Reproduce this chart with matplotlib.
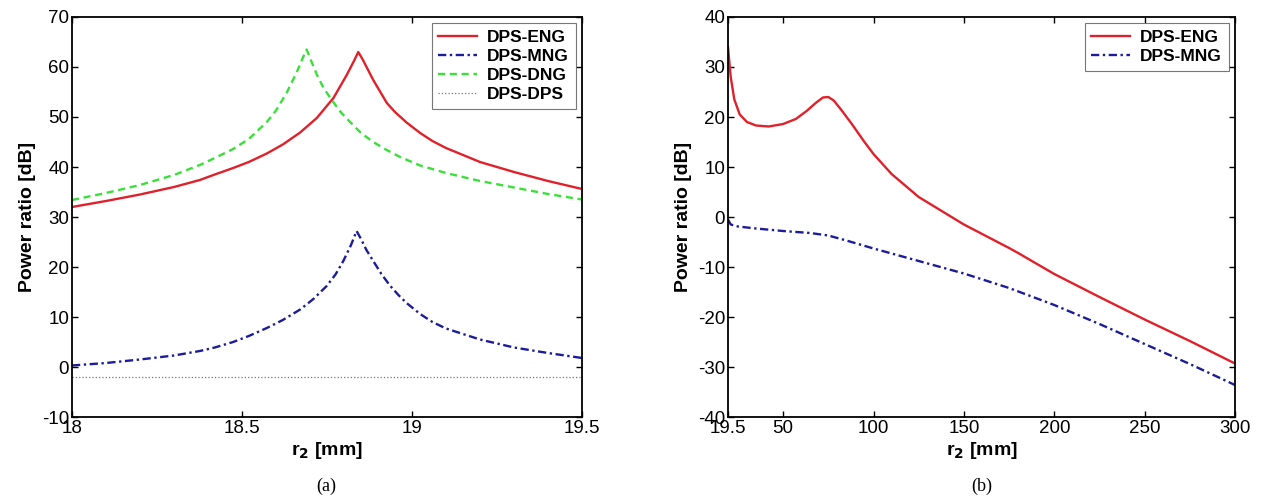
import numpy as np
import matplotlib
matplotlib.use('Agg')
import matplotlib.pyplot as plt

# datos de la grafica (a)
r2_a_eng = [18.0, 18.1, 18.2, 18.3, 18.376, 18.42, 18.474, 18.52, 18.573, 18.62, 18.671,
            18.72, 18.769, 18.808, 18.83, 18.842, 18.855, 18.886, 18.926, 18.95, 18.984,
            19.024, 19.06, 19.1, 19.2, 19.3, 19.4, 19.5]
eng_a = [32.0, 33.2, 34.5, 36.0, 37.4, 38.5, 39.8, 41.0, 42.7, 44.5, 46.9,
         49.8, 53.8, 58.4, 61.3, 63.0, 61.5, 57.4, 52.8, 51.0, 48.9,
         46.8, 45.2, 43.8, 41.0, 39.0, 37.2, 35.6]
r2_a_dng = [18.0, 18.1, 18.2, 18.3, 18.376, 18.42, 18.474, 18.52, 18.573, 18.6, 18.631,
            18.66, 18.68, 18.69, 18.70, 18.72, 18.74, 18.764, 18.79, 18.818, 18.85,
            18.886, 18.92, 18.965, 19.024, 19.1, 19.2, 19.3, 19.4, 19.5]
dng_a = [33.4, 34.8, 36.4, 38.4, 40.4, 41.8, 43.6, 45.6, 49.0, 51.3, 54.8,
         58.8, 62.0, 63.5, 61.8, 58.5, 55.8, 53.4, 51.0, 49.0, 46.8,
         45.0, 43.6, 42.0, 40.3, 38.8, 37.2, 35.9, 34.6, 33.5]
r2_a_mng = [18.0, 18.1, 18.2, 18.3, 18.376, 18.42, 18.474, 18.52, 18.573, 18.62, 18.671,
            18.71, 18.749, 18.775, 18.798, 18.82, 18.837, 18.85, 18.866, 18.886, 18.91,
            18.935, 18.96, 18.984, 19.024, 19.06, 19.1, 19.2, 19.3, 19.4, 19.5]
mng_a = [0.3, 0.8, 1.5, 2.3, 3.2, 3.9, 5.0, 6.2, 7.8, 9.4, 11.5,
         13.6, 16.2, 18.5, 21.2, 24.3, 27.2, 25.6, 23.4, 21.2, 18.6,
         16.3, 14.4, 12.8, 10.6, 9.0, 7.7, 5.5, 3.9, 2.8, 1.8]
r2_a_dps = [18.0, 19.5]
dps_a = [-2.0, -2.0]

# datos de la grafica (b)
r2_b_eng = [19.5, 21, 23, 26, 30, 35, 42, 50, 57, 63, 68, 72, 75, 78, 82, 88, 95, 100,
            110, 125, 150, 175, 180, 200, 225, 250, 275, 300]
eng_b = [34.0, 28.0, 23.5, 20.5, 19.0, 18.3, 18.1, 18.6, 19.6, 21.2, 22.8, 23.9, 24.0,
         23.3, 21.5, 18.6, 15.0, 12.6, 8.6, 4.0, -1.5, -6.2, -7.2, -11.4, -16.0,
         -20.5, -24.8, -29.3]
r2_b_mng = [19.5, 21, 25, 35, 50, 65, 75, 85, 100, 125, 150, 175, 200, 225, 250, 275, 300]
mng_b = [-0.5, -1.5, -1.9, -2.3, -2.8, -3.2, -3.7, -4.7, -6.3, -8.8, -11.3, -14.2,
         -17.6, -21.4, -25.4, -29.4, -33.6]

ROJO = '#e0202a'
AZUL = '#1c1c9a'
VERDE = '#38e038'
GRIS = '#777777'
MNG_LS = (0, (3.5, 1.5, 1, 1.5))


def estiloEjes(ax):
    # ticks hacia adentro en los cuatro lados, como matlab
    ax.tick_params(direction='in', top=True, right=True, labelsize=13.5, length=4,
                   width=1, pad=2)
    for s in ax.spines.values():
        s.set_linewidth(1.3)
    ax.set_ylabel('Power ratio [dB]', fontsize=14, fontweight='bold', labelpad=4)
    ax.set_xlabel(r'r$_\mathbf{2}$ [mm]', fontsize=14, fontweight='bold', labelpad=2)


def leyenda(ax):
    leg = ax.legend(loc='upper right', prop={'weight': 'bold', 'size': 12.5},
                    fancybox=False, edgecolor='#555555', handlelength=2.2,
                    handletextpad=0.6, borderpad=0.4, labelspacing=0.22,
                    borderaxespad=0.35)
    leg.get_frame().set_linewidth(0.8)


def main():
    plt.rcParams['font.family'] = ['Liberation Sans', 'DejaVu Sans']
    plt.rcParams['axes.unicode_minus'] = False
    fig = plt.figure(figsize=(12.65, 4.98), dpi=100)

    ax1 = fig.add_axes([72 / 1265, 1 - 417 / 498, 510 / 1265, 400 / 498])
    ax1.plot(r2_a_eng, eng_a, color=ROJO, lw=1.7, label='DPS-ENG')
    ax1.plot(r2_a_mng, mng_a, color=AZUL, lw=1.7, ls=MNG_LS, label='DPS-MNG')
    ax1.plot(r2_a_dng, dng_a, color=VERDE, lw=1.7, ls=(0, (3, 2)), label='DPS-DNG')
    ax1.plot(r2_a_dps, dps_a, color=GRIS, lw=0.9, ls=':', label='DPS-DPS')
    ax1.set_xlim(18, 19.5)
    ax1.set_ylim(-10, 70)
    ax1.set_xticks([18, 18.5, 19, 19.5])
    ax1.set_xticklabels(['18', '18.5', '19', '19.5'])
    ax1.set_yticks(range(-10, 71, 10))
    estiloEjes(ax1)
    leyenda(ax1)

    ax2 = fig.add_axes([728 / 1265, 1 - 417 / 498, 507 / 1265, 400 / 498])
    ax2.plot(r2_b_eng, eng_b, color=ROJO, lw=1.7, label='DPS-ENG')
    ax2.plot(r2_b_mng, mng_b, color=AZUL, lw=1.7, ls=MNG_LS, label='DPS-MNG')
    ax2.set_xlim(19.5, 300)
    ax2.set_ylim(-40, 40)
    ax2.set_xticks([19.5, 50, 100, 150, 200, 250, 300])
    ax2.set_xticklabels(['19.5', '50', '100', '150', '200', '250', '300'])
    ax2.set_yticks(range(-40, 41, 10))
    estiloEjes(ax2)
    leyenda(ax2)

    # subtitulos (a) y (b)
    fig.text(326 / 1265, 1 - 486 / 498, '(a)', ha='center', va='center',
             fontsize=13, family='Liberation Serif')
    fig.text(982 / 1265, 1 - 486 / 498, '(b)', ha='center', va='center',
             fontsize=13, family='Liberation Serif')

    fig.savefig('out.png', dpi=100)


main()
